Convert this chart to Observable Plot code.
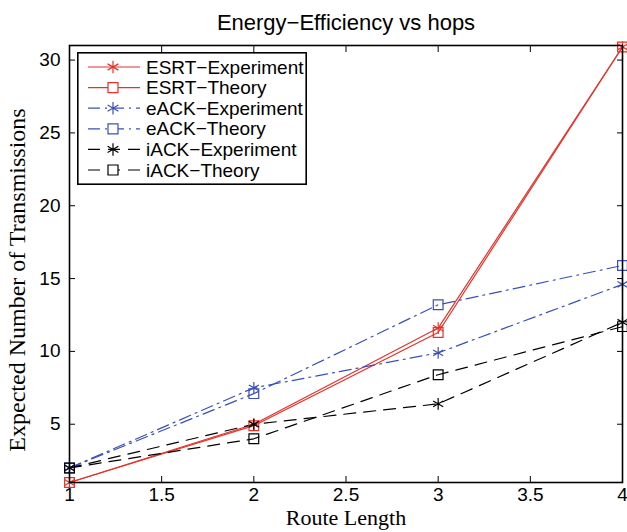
<!DOCTYPE html>
<html>
<head>
<meta charset="utf-8">
<script src="https://cdn.jsdelivr.net/npm/d3@7"></script>
<script src="https://cdn.jsdelivr.net/npm/@observablehq/plot@0.6"></script>
<style>
  body { margin: 0; background: #fff; }
  #wrap { position: relative; width: 627px; height: 532px; overflow: hidden; }
  #legend { position: absolute; left: 77px; top: 52px; }
</style>
</head>
<body>
<div id="wrap"></div>
<script>
const routeLength = [1, 2, 3, 4];
const esrtExperiment = [1.0, 5.0, 11.6, 30.9];
const esrtTheory = [1.0, 4.9, 11.3, 30.9];
const eackExperiment = [2.0, 7.5, 9.9, 14.6];
const eackTheory = [2.0, 7.1, 13.2, 15.9];
const iackExperiment = [2.0, 5.0, 6.4, 12.0];
const iackTheory = [2.0, 4.0, 8.4, 11.7];
const xTicks = [1, 1.5, 2, 2.5, 3, 3.5, 4];
const yTicks = [5, 10, 15, 20, 25, 30];

const RED = "#e5332a", BLUE = "#3a50b8", BLACK = "#000";
const seriesDefs = [
  {name: "ESRT\u2212Experiment", values: esrtExperiment, color: RED, dash: null, symbol: "asterisk"},
  {name: "ESRT\u2212Theory", values: esrtTheory, color: RED, dash: null, symbol: "square"},
  {name: "eACK\u2212Experiment", values: eackExperiment, color: BLUE, dash: "12,5,2,5", symbol: "asterisk"},
  {name: "eACK\u2212Theory", values: eackTheory, color: BLUE, dash: "12,5,2,5", symbol: "square"},
  {name: "iACK\u2212Experiment", values: iackExperiment, color: BLACK, dash: "12,8", symbol: "asterisk"},
  {name: "iACK\u2212Theory", values: iackTheory, color: BLACK, dash: "12,8", symbol: "square"}
];
const data = seriesDefs.map(s => routeLength.map((x, i) => ({x, y: s.values[i], series: s.name})));

const marks = [];
seriesDefs.forEach((s, k) => {
  marks.push(Plot.line(data[k], {x: "x", y: "y", stroke: s.color, strokeWidth: 1.2, strokeDasharray: s.dash}));
});
seriesDefs.forEach((s, k) => {
  marks.push(Plot.dot(data[k], {x: "x", y: "y", stroke: s.color, symbol: s.symbol, r: 5.5, strokeWidth: 1.2, fill: "none"}));
});

const SERIF = "'Liberation Serif', 'Times New Roman', serif";
const chart = Plot.plot({
  width: 627, height: 532,
  marginTop: 45, marginBottom: 50, marginLeft: 69, marginRight: 5,
  style: {fontFamily: "'Liberation Sans', Arial, sans-serif", fontSize: "19px", color: "#000", background: "#fff", overflow: "hidden"},
  x: {domain: [1, 4], label: null},
  y: {domain: [1, 31], label: null},
  marks: [
    ...marks,
    Plot.frame({stroke: "#000", strokeWidth: 1.6}),
    Plot.axisX({anchor: "bottom", ticks: xTicks, tickSize: 0, tickPadding: 5, tickFormat: d => String(d), fontSize: 19}),
    Plot.axisX({anchor: "bottom", ticks: xTicks, tickSize: -6, text: null}),
    Plot.axisX({anchor: "top", ticks: xTicks, tickSize: -6, text: null}),
    Plot.axisY({anchor: "left", ticks: yTicks, tickSize: 0, tickPadding: 9, fontSize: 19}),
    Plot.axisY({anchor: "left", ticks: yTicks, tickSize: -6, text: null}),
    Plot.axisY({anchor: "right", ticks: yTicks, tickSize: -6, text: null}),
    Plot.text(["Energy\u2212Efficiency vs hops"], {frameAnchor: "top", textAnchor: "middle", lineAnchor: "middle", dy: -23, fontSize: 22}),
    Plot.text(["Route Length"], {frameAnchor: "bottom", textAnchor: "middle", lineAnchor: "middle", dy: 35, fontSize: 22, fontFamily: SERIF}),
    Plot.text(["Expected Number of Transmissions"], {frameAnchor: "left", textAnchor: "middle", lineAnchor: "middle", dx: -52, dy: 16, rotate: -90, fontSize: 24, fontFamily: SERIF})
  ]
});
const wrap = document.getElementById("wrap");
wrap.appendChild(chart);

// Legend
const lw = 230, lh = 133;
const leg = d3.create("svg").attr("id", "legend").attr("width", lw).attr("height", lh)
  .style("font-family", "'Liberation Sans', Arial, sans-serif");
leg.append("rect").attr("x", 0.8).attr("y", 0.8).attr("width", lw - 1.6).attr("height", lh - 1.6)
  .attr("fill", "#fff").attr("stroke", "#000").attr("stroke-width", 1.6);
seriesDefs.forEach((s, i) => {
  const cy = 15 + i * 20.6;
  leg.append("line").attr("x1", 11).attr("x2", 63).attr("y1", cy).attr("y2", cy)
    .attr("stroke", s.color).attr("stroke-width", 1.2).attr("stroke-dasharray", s.dash);
  const sym = s.symbol === "square" ? d3.symbolSquare : d3.symbolAsterisk;
  const size = s.symbol === "square" ? 100 : 110;
  leg.append("path").attr("d", d3.symbol(sym, size)()).attr("transform", `translate(36,${cy})`)
    .attr("fill", s.symbol === "square" ? "#fff" : "none").attr("stroke", s.color).attr("stroke-width", 1.2);
  leg.append("text").attr("x", 69).attr("y", cy).attr("dy", "0.35em").attr("font-size", 19).text(s.name);
});
wrap.appendChild(leg.node());
</script>
</body>
</html>
